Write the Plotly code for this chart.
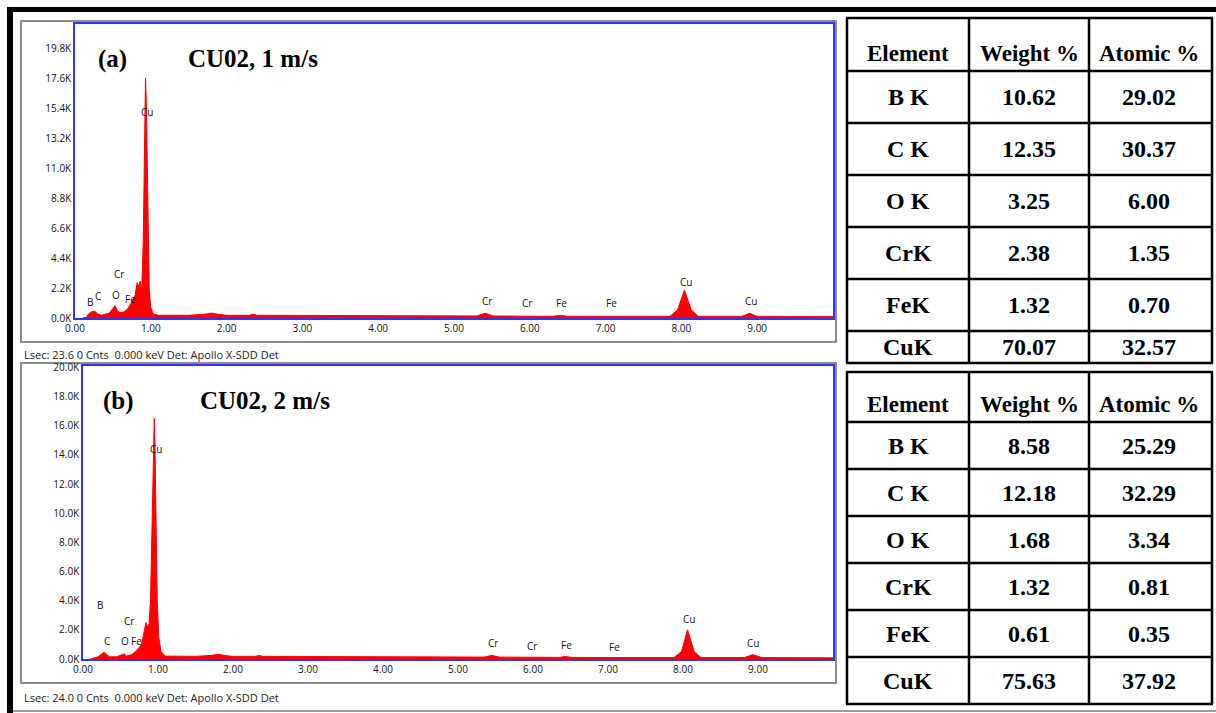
import plotly.graph_objects as go

W, H = 1216, 713

# ---------------- data ----------------
# Spectrum (a) CU02, 1 m/s : energy (keV), counts (K)
energy_a = [0.10, 0.15, 0.18, 0.22, 0.26, 0.30, 0.35, 0.40, 0.45, 0.50, 0.53, 0.56, 0.60, 0.65,
            0.70, 0.75, 0.79, 0.82, 0.84, 0.86, 0.88, 0.90, 0.915, 0.93, 0.94, 0.95, 0.965, 0.98,
            1.00, 1.03, 1.10, 1.50, 1.72, 1.80, 1.88, 2.00, 2.30, 2.35, 2.40, 3.00, 4.00, 5.00,
            5.30, 5.41, 5.52, 5.95, 6.30, 6.40, 6.50, 7.00, 7.85, 7.95, 8.04, 8.13, 8.22, 8.80,
            8.90, 9.00, 9.50, 10.0]
counts_a = [0.00, 0.05, 0.30, 0.45, 0.50, 0.30, 0.20, 0.25, 0.35, 0.70, 0.90, 0.50, 0.40, 0.45,
            0.70, 1.20, 1.60, 2.60, 2.30, 2.70, 2.00, 5.50, 12.0, 17.6, 16.0, 12.0, 6.00, 2.00,
            0.80, 0.30, 0.20, 0.20, 0.28, 0.36, 0.28, 0.20, 0.20, 0.28, 0.20, 0.20, 0.17, 0.15,
            0.15, 0.35, 0.15, 0.13, 0.12, 0.20, 0.12, 0.12, 0.12, 0.60, 2.05, 0.60, 0.12, 0.12,
            0.35, 0.12, 0.10, 0.10]

# Spectrum (b) CU02, 2 m/s
energy_b = [0.10, 0.15, 0.20, 0.25, 0.28, 0.31, 0.35, 0.45, 0.52, 0.55, 0.58, 0.65, 0.72, 0.78,
            0.82, 0.84, 0.86, 0.88, 0.90, 0.92, 0.935, 0.95, 0.96, 0.975, 0.99, 1.01, 1.04, 1.10,
            1.50, 1.72, 1.80, 1.88, 2.00, 2.30, 2.35, 2.40, 3.00, 4.00, 5.00, 5.35, 5.45, 5.55,
            6.00, 6.35, 6.43, 6.52, 7.00, 7.88, 7.98, 8.06, 8.15, 8.24, 8.82, 8.93, 9.05, 9.50,
            10.0]
counts_b = [0.00, 0.05, 0.15, 0.35, 0.45, 0.35, 0.15, 0.15, 0.30, 0.35, 0.20, 0.30, 0.60, 1.00,
            2.00, 2.50, 2.20, 2.40, 4.00, 10.0, 14.0, 16.5, 14.5, 9.00, 4.00, 1.50, 0.50, 0.20,
            0.18, 0.25, 0.32, 0.25, 0.18, 0.18, 0.24, 0.18, 0.17, 0.15, 0.13, 0.13, 0.25, 0.13,
            0.12, 0.11, 0.17, 0.11, 0.10, 0.10, 0.50, 2.00, 0.50, 0.10, 0.10, 0.30, 0.10, 0.08,
            0.08]

# peak labels: (text, keV, K)
labels_a = [("B", 0.20, 1.17), ("C", 0.30, 1.6), ("O", 0.54, 1.7), ("Fe", 0.73, 1.4),
            ("Cr", 0.58, 3.2), ("Cu", 0.95, 15.1), ("Cr", 5.43, 1.25), ("Cr", 5.96, 1.1),
            ("Fe", 6.42, 1.1), ("Fe", 7.08, 1.1), ("Cu", 8.06, 2.64), ("Cu", 8.92, 1.25)]
labels_b = [("B", 0.23, 3.7), ("C", 0.32, 1.24), ("O", 0.56, 1.24), ("Fe", 0.71, 1.24),
            ("Cr", 0.61, 2.6), ("Cu", 0.97, 14.4), ("Cr", 5.47, 1.1), ("Cr", 5.99, 0.9),
            ("Fe", 6.44, 0.96), ("Fe", 7.09, 0.82), ("Cu", 8.08, 2.75), ("Cu", 8.93, 1.1)]

x_ticks = [0, 1, 2, 3, 4, 5, 6, 7, 8, 9]
x_ticktext = ["0.00", "1.00", "2.00", "3.00", "4.00", "5.00", "6.00", "7.00", "8.00", "9.00"]
y_ticks_a = [0, 2.2, 4.4, 6.6, 8.8, 11.0, 13.2, 15.4, 17.6, 19.8]
y_ticktext_a = ["0.0K", "2.2K", "4.4K", "6.6K", "8.8K", "11.0K", "13.2K", "15.4K", "17.6K", "19.8K"]
y_ticks_b = [0, 2, 4, 6, 8, 10, 12, 14, 16, 18, 20]
y_ticktext_b = ["0.0K", "2.0K", "4.0K", "6.0K", "8.0K", "10.0K", "12.0K", "14.0K", "16.0K", "18.0K", "20.0K"]

header = ["Element", "Weight %", "Atomic %"]
elements = ["B K", "C K", "O K", "CrK", "FeK", "CuK"]
weight_a = ["10.62", "12.35", "3.25", "2.38", "1.32", "70.07"]
atomic_a = ["29.02", "30.37", "6.00", "1.35", "0.70", "32.57"]
weight_b = ["8.58", "12.18", "1.68", "1.32", "0.61", "75.63"]
atomic_b = ["25.29", "32.29", "3.34", "0.81", "0.35", "37.92"]

caption_a = "Lsec: 23.6 0 Cnts  0.000 keV Det: Apollo X-SDD Det"
caption_b = "Lsec: 24.0 0 Cnts  0.000 keV Det: Apollo X-SDD Det"


# ---------------- helpers ----------------
def PX(x):
    return x / W


def PY(y):
    return 1 - y / H


RED = "#ff0000"
BLUE = "#3333ff"
TICKFONT = dict(family="Open Sans", size=10, color="#111")
SERIF = "Liberation Serif"

fig = go.Figure()
fig.add_trace(go.Scatter(x=energy_a, y=counts_a, mode="lines", fill="tozeroy",
                         line=dict(color=RED, width=1), fillcolor=RED,
                         xaxis="x", yaxis="y", showlegend=False))
fig.add_trace(go.Scatter(x=energy_b, y=counts_b, mode="lines", fill="tozeroy",
                         line=dict(color=RED, width=1), fillcolor=RED,
                         xaxis="x2", yaxis="y2", showlegend=False))

axis_common = dict(showgrid=False, zeroline=False, showline=True, mirror=True,
                   linecolor=BLUE, linewidth=1.5, ticks="", tickfont=TICKFONT,
                   fixedrange=True, automargin=False)

fig.update_layout(
    width=W, height=H, margin=dict(l=0, r=0, t=0, b=0),
    paper_bgcolor="white", plot_bgcolor="white", showlegend=False,
    xaxis=dict(domain=[PX(75), PX(833)], range=[0, 10.0], anchor="y",
               tickvals=x_ticks, ticktext=x_ticktext, **axis_common),
    yaxis=dict(domain=[PY(318), PY(24)], range=[0, 21.56], anchor="x",
               tickvals=y_ticks_a, ticktext=y_ticktext_a, **axis_common),
    xaxis2=dict(domain=[PX(83), PX(833)], range=[0, 10.0], anchor="y2",
                tickvals=x_ticks, ticktext=x_ticktext, **axis_common),
    yaxis2=dict(domain=[PY(659), PY(366)], range=[0, 20.1], anchor="x2",
                tickvals=y_ticks_b, ticktext=y_ticktext_b, **axis_common),
)

shapes = []
annotations = []

# black page borders
shapes.append(dict(type="rect", xref="paper", yref="paper", x0=PX(7), x1=PX(1216), y0=PY(12), y1=PY(7),
                   fillcolor="black", line=dict(width=0), layer="above"))
shapes.append(dict(type="rect", xref="paper", yref="paper", x0=PX(7), x1=PX(13), y0=PY(713), y1=PY(7),
                   fillcolor="black", line=dict(width=0), layer="above"))
# thin gray bottom rule
shapes.append(dict(type="line", xref="paper", yref="paper", x0=PX(13), x1=PX(1216), y0=PY(711), y1=PY(711),
                   line=dict(color="#9a9a9a", width=2), layer="above"))

# gray chart frames
for (x0, y0, x1, y1) in [(21, 21, 836, 342), (21, 363, 836, 683)]:
    shapes.append(dict(type="rect", xref="paper", yref="paper", x0=PX(x0), x1=PX(x1), y0=PY(y1), y1=PY(y0),
                       line=dict(color="#8c8c8c", width=2), layer="below"))

# peak labels
for txt, xv, yv in labels_a:
    annotations.append(dict(text=txt, x=xv, y=yv, xref="x", yref="y", showarrow=False,
                            xanchor="center", yanchor="middle",
                            font=dict(family="Open Sans", size=10, color="#111")))
for txt, xv, yv in labels_b:
    annotations.append(dict(text=txt, x=xv, y=yv, xref="x2", yref="y2", showarrow=False,
                            xanchor="center", yanchor="middle",
                            font=dict(family="Open Sans", size=10, color="#111")))

# titles
for txt, cx, cy in [("(a)", 112, 59), ("CU02, 1 m/s", 253, 58), ("(b)", 118, 401), ("CU02, 2 m/s", 265, 400)]:
    annotations.append(dict(text="<b>%s</b>" % txt, x=PX(cx), y=PY(cy), xref="paper", yref="paper",
                            showarrow=False, xanchor="center", yanchor="middle",
                            font=dict(family=SERIF, size=25, color="black")))

# captions
for txt, cy in [(caption_a, 354), (caption_b, 697)]:
    annotations.append(dict(text=txt, x=PX(22), y=PY(cy), xref="paper", yref="paper", showarrow=False,
                            xanchor="left", yanchor="middle",
                            font=dict(family="Open Sans", size=11, color="#222")))

# tables
col_edges = [847, 969, 1089, 1212]
col_centers = [908, 1029, 1149]
tables = [
    dict(rows=[18, 71, 123, 175, 227, 279, 331, 363], header_y=53, weight=weight_a, atomic=atomic_a),
    dict(rows=[372, 422, 469, 516, 563, 610, 657, 704], header_y=404, weight=weight_b, atomic=atomic_b),
]
for t in tables:
    rows = t["rows"]
    top, bottom = rows[0], rows[-1]
    for ry in rows:
        shapes.append(dict(type="line", xref="paper", yref="paper", x0=PX(col_edges[0] - 1), x1=PX(col_edges[-1] + 1),
                           y0=PY(ry), y1=PY(ry), line=dict(color="black", width=2.5), layer="above"))
    for cx in col_edges:
        shapes.append(dict(type="line", xref="paper", yref="paper", x0=PX(cx), x1=PX(cx),
                           y0=PY(bottom), y1=PY(top), line=dict(color="black", width=2.5), layer="above"))
    # header
    for txt, cx in zip(header, col_centers):
        annotations.append(dict(text="<b>%s</b>" % txt, x=PX(cx), y=PY(t["header_y"]), xref="paper", yref="paper",
                                showarrow=False, xanchor="center", yanchor="middle",
                                font=dict(family=SERIF, size=23, color="black")))
    for i, (el, w, a) in enumerate(zip(elements, t["weight"], t["atomic"])):
        cy = (rows[i + 1] + rows[i + 2]) / 2
        for txt, cx in zip([el, w, a], col_centers):
            annotations.append(dict(text="<b>%s</b>" % txt, x=PX(cx), y=PY(cy), xref="paper", yref="paper",
                                    showarrow=False, xanchor="center", yanchor="middle",
                                    font=dict(family=SERIF, size=24, color="black")))

fig.update_layout(shapes=shapes, annotations=annotations)
fig.write_html("out.html", post_script="document.body.style.margin='0px';")
